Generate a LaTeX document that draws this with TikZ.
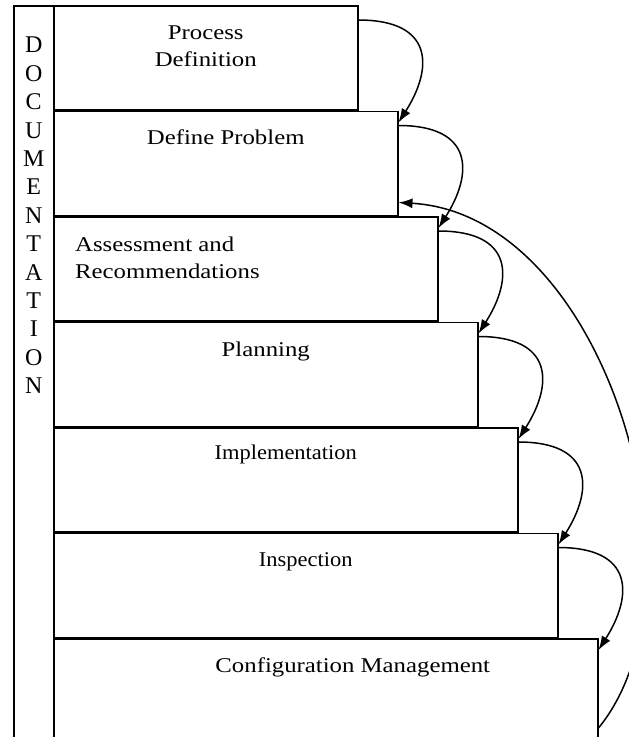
\documentclass[tikz,border=0pt]{standalone}
\usepackage{fontspec}
\setmainfont{Liberation Serif}
\newfontfamily\stairfont[FakeStretch=1.18]{Liberation Serif}
\newfontfamily\slimfont[FakeStretch=1.07]{Liberation Serif}
\usetikzlibrary{positioning,arrows.meta}
\tikzset{
  stair/.style={draw, fill=white, line width=1.5pt, inner sep=0pt, minimum height=104pt, anchor=north west},
  steplabel/.style={inner sep=0pt, font=\stairfont\fontsize{21}{27}\selectfont, align=center},
  slimlabel/.style={inner sep=0pt, font=\slimfont\fontsize{21}{27}\selectfont, align=center},
  hop/.style={-{Latex[length=14pt,width=10pt]}, line width=1.5pt},
}

\begin{document}
\begin{tikzpicture}[x=1pt, y=-1pt]
\useasboundingbox (0,0) rectangle (629,737);
\clip (0,0) rectangle (629,737);
%Nodes
\node[stair, minimum width=40pt, minimum height=760pt] (docbar) at (13,5) {};
\node[inner sep=0pt, font=\fontsize{24}{28.4}\selectfont, align=center, below=32pt of docbar.north] (doctext) {D\\O\\C\\U\\M\\E\\N\\T\\A\\T\\I\\O\\N};
\node[stair, minimum width=304pt] (node1) at (53,5) {};
\node[stair, minimum width=344pt] (node2) [below=0pt of node1.south west, anchor=north west] {};
\node[stair, minimum width=384pt] (node3) [below=0pt of node2.south west, anchor=north west] {};
\node[stair, minimum width=424pt] (node4) [below=0pt of node3.south west, anchor=north west] {};
\node[stair, minimum width=464pt] (node5) [below=0pt of node4.south west, anchor=north west] {};
\node[stair, minimum width=504pt] (node6) [below=0pt of node5.south west, anchor=north west] {};
\node[stair, minimum width=544pt, minimum height=115pt] (node7) [below=0pt of node6.south west, anchor=north west] {};

%Labels
\node[steplabel, below=21pt of node1.north] (text1) {Process\\Definition};
\node[steplabel, below=19pt of node2.north] (text2) {Define Problem};
\node[steplabel, align=left, below right=21pt and 22pt of node3.north west] (text3) {Assessment and\\Recommendations};
\node[steplabel, below=20pt of node4.north] (text4) {Planning};
\node[slimlabel, below=18pt of node5.north] (text5) {Implementation};
\node[slimlabel, below=20pt of node6.north] (text6) {Inspection};
\node[steplabel, below=20pt of node7.north, xshift=27pt] (text7) {Configuration Management};

%Lines
\draw[hop] ([yshift=-15pt]node1.north east) .. controls +(75,0) and +(35,-55) .. ([yshift=-12pt]node2.north east);
\draw[hop] ([yshift=-15pt]node2.north east) .. controls +(75,0) and +(35,-55) .. ([yshift=-12pt]node3.north east);
\draw[hop] ([yshift=-15pt]node3.north east) .. controls +(75,0) and +(35,-55) .. ([yshift=-12pt]node4.north east);
\draw[hop] ([yshift=-15pt]node4.north east) .. controls +(75,0) and +(35,-55) .. ([yshift=-12pt]node5.north east);
\draw[hop] ([yshift=-15pt]node5.north east) .. controls +(75,0) and +(35,-55) .. ([yshift=-12pt]node6.north east);
\draw[hop] ([yshift=-15pt]node6.north east) .. controls +(75,0) and +(35,-55) .. ([yshift=-12pt]node7.north east);
\draw[hop] ([yshift=-90pt]node7.north east) .. controls +(115,-140) and +(210,12) .. ([yshift=-92pt]node2.north east);
\end{tikzpicture}
\end{document}
